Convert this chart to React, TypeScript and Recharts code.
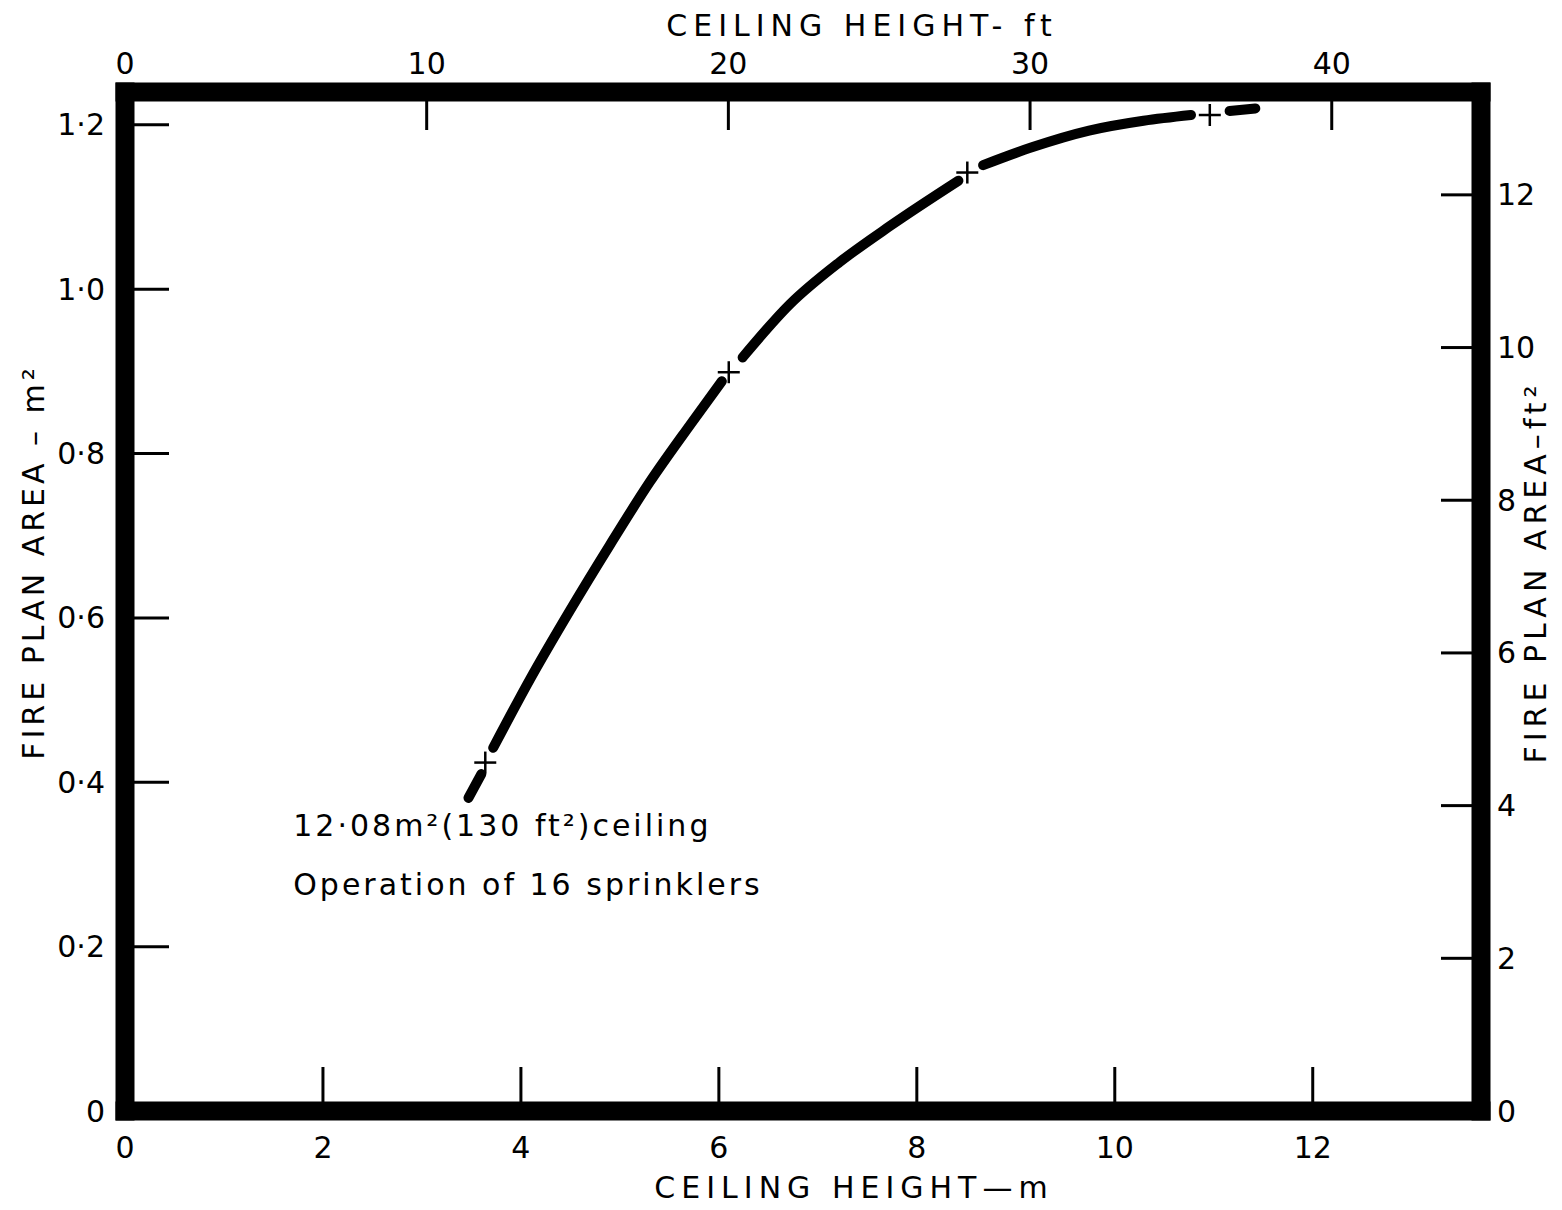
import { ComposedChart, Line, Scatter, XAxis, YAxis, ReferenceDot } from "recharts";

// chart data (metres / square metres)
const metreTicks = [0, 2, 4, 6, 8, 10, 12];
const feetTicks = [0, 10, 20, 30, 40];
const areaM2Ticks = [0, 0.2, 0.4, 0.6, 0.8, 1.0, 1.2];
const areaFt2Ticks = [0, 2, 4, 6, 8, 10, 12];

// the curve is broken at each test point, so it is kept as separate pieces
const segA = [
  { x: 3.47, y: 0.381 },
  { x: 3.6, y: 0.41 },
];
const segB = [
  { x: 3.72, y: 0.442 },
  { x: 4.09, y: 0.525 },
  { x: 4.5, y: 0.61 },
  { x: 4.9, y: 0.689 },
  { x: 5.3, y: 0.765 },
  { x: 5.71, y: 0.835 },
  { x: 6.03, y: 0.888 },
];
const segC = [
  { x: 6.24, y: 0.917 },
  { x: 6.72, y: 0.982 },
  { x: 7.22, y: 1.033 },
  { x: 7.73, y: 1.077 },
  { x: 8.42, y: 1.132 },
];
const segD = [
  { x: 8.67, y: 1.151 },
  { x: 9.17, y: 1.173 },
  { x: 9.74, y: 1.193 },
  { x: 10.29, y: 1.205 },
  { x: 10.77, y: 1.212 },
];
const segE = [
  { x: 11.16, y: 1.217 },
  { x: 11.42, y: 1.22 },
];
const crosses = [
  { x: 3.64, y: 0.424 },
  { x: 6.1, y: 0.899 },
  { x: 8.51, y: 1.142 },
  { x: 10.96, y: 1.212 },
];

const noteLines = ["12·08m²(130 ft²)ceiling", "Operation of 16 sprinklers"];

const FT = 0.3048;
const FT2 = 0.092903;
const M_MAX = 13.7;
const M2_MAX = 1.24;
const FT2_MAX = M2_MAX / FT2;

// layout
const W = 1546;
const H = 1200;
const LEFT_W = 117;
const RIGHT_W = 73;
const TOP_H = 84;
const BOTTOM_H = 97;
const PL = LEFT_W;
const PR = W - RIGHT_W;
const PT = TOP_H;
const PB = H - BOTTOM_H;

const font = { fontFamily: "DejaVu Sans", fontSize: 30, fill: "#000" };
const frame = { stroke: "#000", strokeWidth: 19, strokeLinecap: "square" as const };

const fmtDot = (v: number) => (v === 0 ? "0" : v.toFixed(1).replace(".", "·"));

function BottomTick({ x, payload }: any) {
  return (
    <g>
      {payload.value !== 0 && (
        <line x1={x} x2={x} y1={PB - 9} y2={PB - 44} stroke="#000" strokeWidth={3} />
      )}
      <text x={x} y={PB + 36} textAnchor="middle" dominantBaseline="central" style={font}>
        {payload.value}
      </text>
    </g>
  );
}

// top axis shares the metre scale; its ticks sit at whole tens of feet
function TopTick({ x, payload }: any) {
  return (
    <g>
      {payload.value !== 0 && (
        <line x1={x} x2={x} y1={PT + 9} y2={PT + 38} stroke="#000" strokeWidth={3} />
      )}
      <text x={x} y={PT - 29} textAnchor="middle" dominantBaseline="central" style={font}>
        {Math.round(payload.value / FT)}
      </text>
    </g>
  );
}

function LeftTick({ y, payload }: any) {
  return (
    <g>
      {payload.value !== 0 && (
        <line x1={PL + 9} x2={PL + 44} y1={y} y2={y} stroke="#000" strokeWidth={3} />
      )}
      <text x={PL - 20} y={y} textAnchor="end" dominantBaseline="central" style={font}>
        {fmtDot(payload.value)}
      </text>
    </g>
  );
}

function RightTick({ y, payload }: any) {
  return (
    <g>
      {payload.value !== 0 && (
        <line x1={PR - 9} x2={PR - 40} y1={y} y2={y} stroke="#000" strokeWidth={3} />
      )}
      <text x={PR + 16} y={y} textAnchor="start" dominantBaseline="central" style={font}>
        {payload.value}
      </text>
    </g>
  );
}

const Cross = ({ cx, cy }: any) => (
  <g stroke="#000" strokeWidth={2.5}>
    <line x1={cx - 11} x2={cx + 11} y1={cy} y2={cy} />
    <line x1={cx} x2={cx} y1={cy - 11} y2={cy + 11} />
  </g>
);

const title = (txt: string, x: number, y: number, spacing: number, rotate = false) => () =>
  (
    <text
      x={x}
      y={y}
      textAnchor="middle"
      dominantBaseline="central"
      transform={rotate ? `rotate(-90 ${x} ${y})` : undefined}
      style={{ ...font, letterSpacing: spacing }}
    >
      {txt}
    </text>
  );

const Note = ({ viewBox }: any) => (
  <g>
    {noteLines.map((t, i) => (
      <text
        key={i}
        x={viewBox.x}
        y={viewBox.y + i * 59}
        dominantBaseline="central"
        style={{ ...font, letterSpacing: 3 }}
      >
        {t}
      </text>
    ))}
  </g>
);

const segs = [segA, segB, segC, segD, segE];

export default function App() {
  return (
    <ComposedChart
      width={W}
      height={H}
      data={crosses}
      margin={{ top: 0, right: 0, bottom: 0, left: 0 }}
    >
      <XAxis
        xAxisId="m"
        type="number"
        dataKey="x"
        orientation="bottom"
        domain={[0, M_MAX]}
        ticks={metreTicks}
        interval={0}
        allowDataOverflow
        height={BOTTOM_H}
        axisLine={frame}
        tickLine={false}
        tick={<BottomTick />}
        label={{ content: title("CEILING HEIGHT—m", 846, 1179, 6) }}
      />
      <XAxis
        xAxisId="ft"
        type="number"
        dataKey="x"
        orientation="top"
        domain={[0, M_MAX]}
        ticks={feetTicks.map((f) => f * FT)}
        interval={0}
        allowDataOverflow
        height={TOP_H}
        axisLine={frame}
        tickLine={false}
        tick={<TopTick />}
        label={{ content: title("CEILING HEIGHT- ft", 854, 17, 6) }}
      />
      <YAxis
        yAxisId="m2"
        type="number"
        dataKey="y"
        orientation="left"
        domain={[0, M2_MAX]}
        ticks={areaM2Ticks}
        interval={0}
        allowDataOverflow
        width={LEFT_W}
        axisLine={frame}
        tickLine={false}
        tick={<LeftTick />}
        label={{ content: title("FIRE PLAN AREA – m²", 25, 554, 4, true) }}
      />
      <YAxis
        yAxisId="ft2"
        type="number"
        orientation="right"
        domain={[0, FT2_MAX]}
        ticks={areaFt2Ticks}
        interval={0}
        allowDataOverflow
        width={RIGHT_W}
        axisLine={frame}
        tickLine={false}
        tick={<RightTick />}
        label={{ content: title("FIRE PLAN AREA–ft²", 1527, 564, 5, true) }}
      />
      {segs.map((s, i) => (
        <Line
          key={i}
          xAxisId="m"
          yAxisId="m2"
          data={s}
          dataKey="y"
          type="monotone"
          stroke="#000"
          strokeWidth={10}
          strokeLinecap="round"
          dot={false}
          activeDot={false}
          isAnimationActive={false}
        />
      ))}
      <Scatter
        xAxisId="m"
        yAxisId="m2"
        data={crosses}
        dataKey="y"
        shape={<Cross />}
        isAnimationActive={false}
      />
      <ReferenceDot xAxisId="m" yAxisId="m2" x={1.7} y={0.348} r={0} label={<Note />} />
    </ComposedChart>
  );
}
